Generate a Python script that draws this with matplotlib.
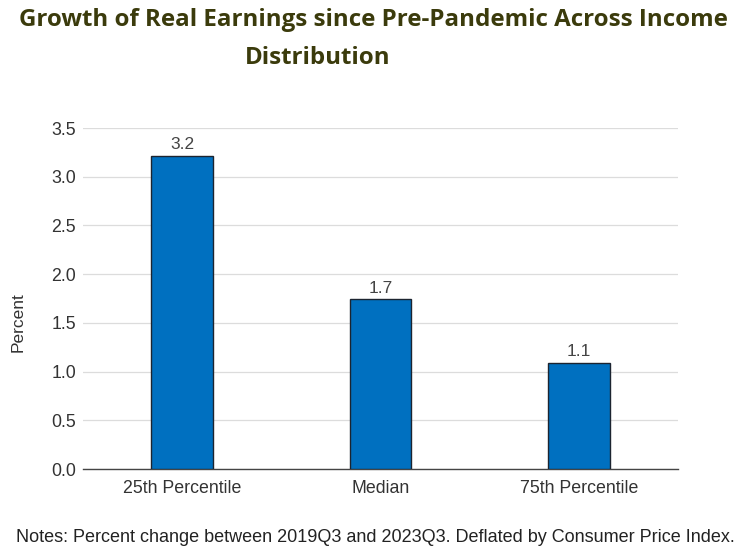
import matplotlib.pyplot as plt
import numpy as np

categories = ["25th Percentile", "Median", "75th Percentile"]
growth = [3.21, 1.74, 1.09]
yticks = [0.0, 0.5, 1.0, 1.5, 2.0, 2.5, 3.0, 3.5]

title_color = "#3b3b0c"
bar_color = "#0070c0"
font = "Liberation Sans"

fig = plt.figure(figsize=(7.43, 5.47), dpi=100)
ax = fig.add_axes([83 / 743, 1 - 469 / 547, 595 / 743, 341 / 547])

x = np.arange(len(categories))
bars = ax.bar(x, growth, width=0.31, color=bar_color, edgecolor="#1c2430", linewidth=1.0, zorder=3)
for rect, val in zip(bars, growth):
    ax.text(rect.get_x() + rect.get_width() / 2, val + 0.04, f"{val:.1f}",
            ha="center", va="bottom", fontsize=12.5, color="#444444", family=font)

ax.set_xlim(-0.5, len(categories) - 0.5)
ax.set_ylim(0, 3.5)
ax.set_yticks(yticks)
ax.set_yticklabels([f"{t:.1f}" for t in yticks])
ax.set_xticks(x)
ax.set_xticklabels(categories)
ax.grid(axis="y", color="#dcdcdc", linewidth=0.9, zorder=0)
ax.tick_params(axis="both", length=0, labelsize=12.8, labelcolor="#333333")
ax.tick_params(axis="x", pad=8)
ax.tick_params(axis="y", pad=5)
for lab in ax.get_xticklabels() + ax.get_yticklabels():
    lab.set_family(font)
for side in ["top", "right", "left"]:
    ax.spines[side].set_visible(False)
ax.spines["bottom"].set_color("#444444")
ax.spines["bottom"].set_linewidth(1.0)
ax.set_ylabel("Percent", fontsize=12.5, color="#333333", family=font)
ax.yaxis.set_label_coords(-0.097, 0.43)

fig.text(373 / 743, 1 - 20 / 547, "Growth of Real Earnings since Pre-Pandemic Across Income",
         ha="center", va="center", fontsize=17.4, fontweight="bold", color=title_color, family="Open Sans")
fig.text(318 / 743, 1 - 58 / 547, "Distribution",
         ha="center", va="center", fontsize=17.4, fontweight="bold", color=title_color, family="Open Sans")
fig.text(16 / 743, 1 - 537 / 547,
         "Notes: Percent change between 2019Q3 and 2023Q3. Deflated by Consumer Price Index.",
         ha="left", va="center", fontsize=13.0, color="#222222", family=font)

fig.savefig("out.png", dpi=100)
